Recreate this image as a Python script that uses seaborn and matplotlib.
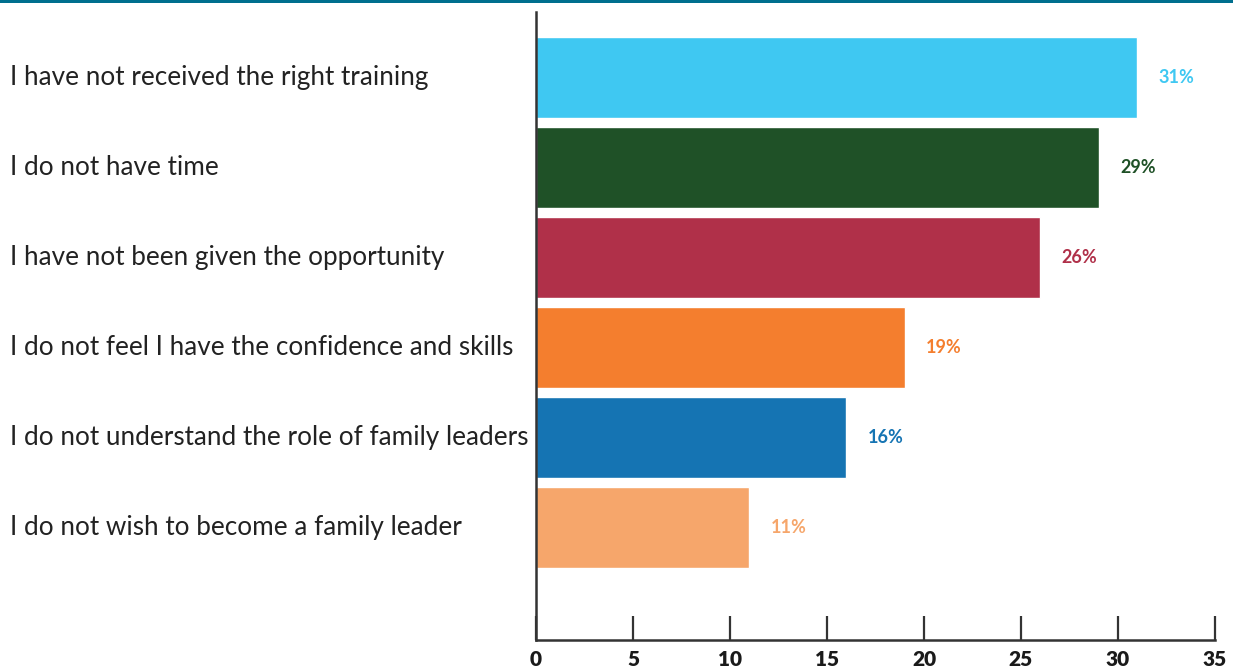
import pandas as pd
import seaborn as sns
import matplotlib.pyplot as plt
import matplotlib.transforms as mtransforms
from matplotlib.patches import Rectangle

# chart data
reasons = ['I have not received the right training',
           'I do not have time',
           'I have not been given the opportunity',
           'I do not feel I have the confidence and skills',
           'I do not understand the role of family leaders',
           'I do not wish to become a family leader']
percents = [31, 29, 26, 19, 16, 11]
bar_colors = ['#3FC8F2', '#1F5127', '#B03049', '#F47E2E', '#1574B3', '#F6A66B']
x_ticks = [0, 5, 10, 15, 20, 25, 30, 35]

df = pd.DataFrame({'reason': reasons, 'pct': percents})

sns.set_style('white')
plt.rcParams['font.family'] = ['Lato', 'DejaVu Sans']

fig = plt.figure(figsize=(12.33, 6.69), dpi=100)
ax = fig.add_axes([0.4347, 0.0433, 0.5507, 0.9387])

sns.barplot(data=df, x='pct', y='reason', hue='reason', palette=bar_colors,
            legend=False, width=0.9, saturation=1, ax=ax)

ax.set_xlim(0, 35)
ax.set_ylim(6.25, -0.73)
ax.set_xticks(x_ticks)
ax.set_xticklabels([str(t) for t in x_ticks], fontsize=15, fontweight='heavy', color='#1a1a1a')
ax.tick_params(axis='x', bottom=True, direction='in', length=17, width=1.6,
               color='#333333', pad=7)
ax.tick_params(axis='y', left=False, length=0)
ax.set_yticklabels([])
ax.set_xlabel('')
ax.set_ylabel('')

for s in ['top', 'right']:
    ax.spines[s].set_visible(False)
for s in ['left', 'bottom']:
    ax.spines[s].set_color('#333333')
    ax.spines[s].set_linewidth(1.8)

# category labels, left aligned in the figure
label_tf = mtransforms.blended_transform_factory(fig.transFigure, ax.transData)
for i, r in enumerate(reasons):
    ax.text(10 / 1233, i, r, transform=label_tf, fontsize=18.8,
            color='#222222', va='center', ha='left', clip_on=False)

# value labels
for i, (p, c) in enumerate(zip(percents, bar_colors)):
    ax.text(p + 1.1, i, f'{p}%', color=c, fontsize=13, fontweight='bold',
            va='center', ha='left')

# top band
fig.add_artist(Rectangle((0, 1 - 3 / 669), 1, 3 / 669, transform=fig.transFigure,
                         color='#006F8E', lw=0))

fig.savefig('out.png', dpi=100)
